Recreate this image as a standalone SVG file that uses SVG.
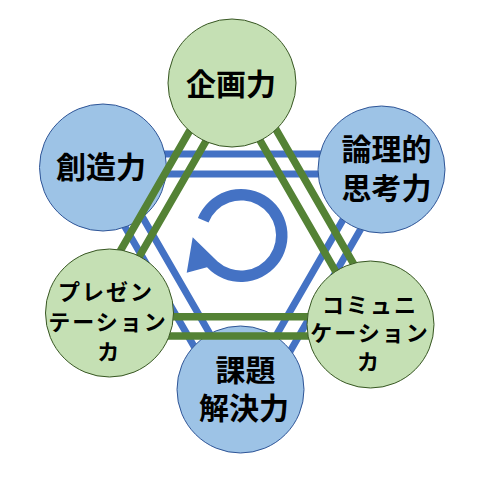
<svg xmlns="http://www.w3.org/2000/svg" width="479" height="481" viewBox="0 0 479 481">
<style>
.bl{fill:none;stroke:#4472C4;stroke-width:7;stroke-linejoin:miter}
.gl{fill:none;stroke:#548235;stroke-width:7.5;stroke-linejoin:miter}
.gc{fill:#C5E0B4;stroke:#385723;stroke-width:1}
.bc{fill:#9DC3E6;stroke:#2F5597;stroke-width:1}
.t{font-family:"Noto Sans CJK JP","Noto Sans CJK SC",sans-serif;font-weight:bold;fill:#000;text-anchor:middle;dominant-baseline:central}
.L{font-size:30px}
.S{font-size:22px;letter-spacing:2px}
</style>
<rect width="479" height="481" fill="#ffffff"/>
<g id="connectors-blue">
<polygon class="bl" points="82.9,154 404.1,154 243.5,432.1"/>
<polygon class="bl" points="117.6,174 369.4,174 243.5,392.1"/>
</g>
<g id="cycle-arrow">
<path fill="#4472C4" d="M197.9,218.1 A46.5,46.5 0 1 1 207.0,267.2 L186.7,272.7 L192.7,237.3 L217.6,261.5 A35,35 0 1 0 208.55,222.4 Z"/>
</g>
<g id="node-souzou">
<circle class="bc" cx="103" cy="167.5" r="63.5"/>
<text class="t L" x="101" y="165">創造力</text>
</g>
<g id="node-ronri">
<circle class="bc" cx="381.5" cy="169.5" r="63.5"/>
<text class="t L" x="386.5" y="147"><tspan x="386.5" y="147">論理的</tspan><tspan x="386.5" y="185.5">思考力</tspan></text>
</g>
<g id="node-kadai">
<circle class="bc" cx="240.5" cy="389.5" r="63.5"/>
<text class="t L" x="245.5" y="367.5"><tspan x="245.5" y="367.5">課題</tspan><tspan x="244" y="406">解決力</tspan></text>
</g>
<g id="connectors-green">
<polygon class="gl" points="71.2,335.95 395.2,335.95 233.2,55.3"/>
<polygon class="gl" points="104.6,316.65 361.8,316.65 233.2,93.9"/>
</g>
<g id="node-kikaku">
<circle class="gc" cx="232" cy="83" r="64"/>
<text class="t L" x="231" y="82">企画力</text>
</g>
<g id="node-presen">
<circle class="gc" cx="109.5" cy="313" r="64"/>
<text class="t S" x="106" y="290"><tspan x="106" y="290">プレゼン</tspan><tspan x="108" y="320">テーション</tspan><tspan x="109.3" y="350">カ</tspan></text>
</g>
<g id="node-comm">
<circle class="gc" cx="370.5" cy="324.5" r="63.5"/>
<text class="t S" x="370" y="303"><tspan x="370" y="303">コミュニ</tspan><tspan x="370" y="331">ケーション</tspan><tspan x="369" y="359.5">カ</tspan></text>
</g>
</svg>
